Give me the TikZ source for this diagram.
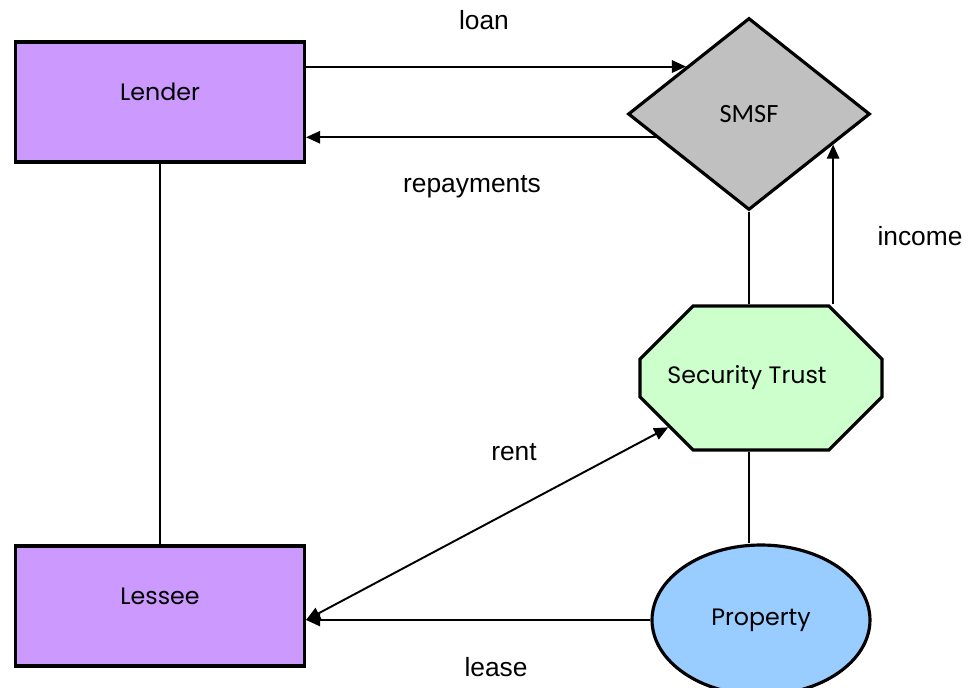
\documentclass[tikz,border=0pt]{standalone}
\usepackage{fontspec}
\setmainfont{Liberation Sans}
\newfontfamily\gothic{Poppins}
\newfontfamily\narrowsans{Carlito}
\usepackage{xcolor}
\usetikzlibrary{calc, shapes.geometric, shapes.misc, positioning, arrows.meta}

\definecolor{lilac}{HTML}{CC99FF}
\definecolor{fundgray}{HTML}{C0C0C0}
\definecolor{mint}{HTML}{CCFFCC}
\definecolor{sky}{HTML}{99CCFF}

\tikzset{
  party/.style={draw, line width=1.8pt, fill=lilac, rectangle,
    minimum width=5.78cm, minimum height=2.4cm, inner sep=0pt, text depth=0.4cm,
    font=\gothic\fontsize{13.5}{16}\selectfont},
  fund/.style={draw, line width=1.8pt, fill=fundgray, diamond,
    minimum width=4.84cm, minimum height=3.84cm, inner sep=0pt,
    font=\narrowsans\fontsize{15}{18}\selectfont},
  trust/.style={draw, line width=1.8pt, fill=mint, chamfered rectangle,
    chamfered rectangle xsep=0.84cm, chamfered rectangle ysep=0.82cm,
    minimum width=4.84cm, minimum height=2.88cm,
    inner sep=0pt, font=\gothic\fontsize{13.5}{16}\selectfont},
  asset/.style={draw, line width=1.8pt, fill=sky, ellipse,
    minimum width=4.36cm, minimum height=3.0cm, inner sep=0pt,
    font=\gothic\fontsize{13.5}{16}\selectfont},
  link/.style={line width=1.1pt},
  lbl/.style={inner sep=0pt}
}

\begin{document}
\begin{tikzpicture}[x=0.02cm, y=-0.02cm, >={Triangle[length=8pt,width=7pt]},
    font=\fontsize{15}{18}\selectfont]

    % =================================================================
    % 1. PAGE FRAME
    % =================================================================
    \useasboundingbox (0,0) rectangle (978,688);

    % =================================================================
    % 2. THE PARTIES
    % =================================================================
    \node[party] (lender) at (160,102) {Lender};
    \node[party] (lessee) at (160,606) {Lessee};
    \node[fund]  (smsf)   at (749,114) {SMSF};
    \node[trust] (trust)  at (761,378) {Security Trust\kern0.56cm};
    \node[asset] (prop)   at (761,620) {Property};

    % Common end point of rent and lease on the Lessee box
    \coordinate (lesseeport) at (prop.west -| lessee.east);

    % =================================================================
    % 3. PLAIN LINKS
    % =================================================================
    \draw[link] (lender) -- (lessee);
    \draw[link] (smsf.south) -- (smsf.south |- trust.north);
    \draw[link] (smsf.south |- trust.south) -- (smsf.south |- prop.north);

    % =================================================================
    % 4. MONEY FLOWS (ARROWS)
    % =================================================================
    \draw[link, ->] (lender.east |- smsf.143) -- (smsf.143);
    \draw[link, ->] (smsf.194) -- (smsf.194 -| lender.east);
    \draw[link, ->] (smsf.340 |- trust.north) -- (smsf.340);
    \draw[link, <->] (lesseeport) -- (trust.208);
    \draw[link, ->] (prop.west) -- (lesseeport);

    % =================================================================
    % 5. FLOW LABELS
    % =================================================================
    \node[lbl] (loan)       at (484,20)  {loan};
    \node[lbl] (repayments) at (472,187) {repayments};
    \node[lbl] (income)     at (920,236) {income};
    \node[lbl] (rent)       at (514,452) {rent};
    \node[lbl] (lease)      at (496,667) {lease};

\end{tikzpicture}
\end{document}
